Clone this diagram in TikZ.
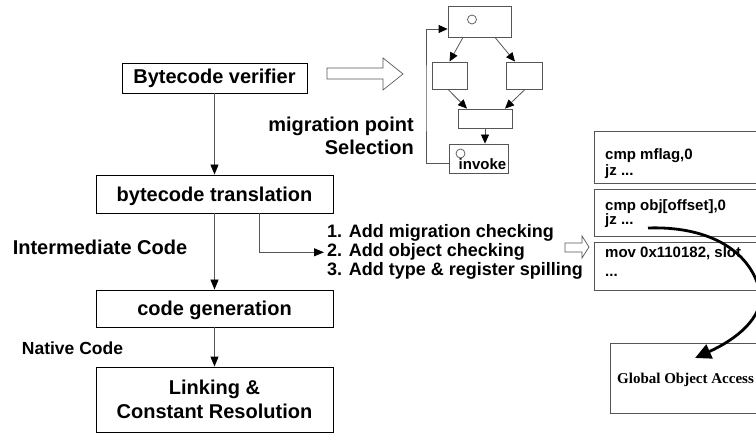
\documentclass[tikz,border=0pt]{standalone}
\usepackage{fontspec}
\setmainfont{Liberation Sans}
\newfontfamily\serifbold{Liberation Serif}
\usetikzlibrary{arrows.meta,calc}
\definecolor{ln}{HTML}{555555}
\begin{document}
\begin{tikzpicture}[x=1pt,y=-1pt,
  stage/.style={draw=black,line width=0.9pt,minimum width=237pt,inner sep=0pt,
    font=\fontsize{20}{23.3}\selectfont\bfseries,align=center},
  flow/.style={draw=ln,line width=0.9pt,-{Triangle[width=8pt,length=10pt,color=black]}},
  lbl/.style={inner sep=0pt,font=\fontsize{20}{23}\selectfont\bfseries},
  cfgbox/.style={draw=ln,line width=0.8pt,inner sep=0pt},
  cflow/.style={draw=ln,line width=0.8pt,-{Triangle[width=8pt,length=9pt,color=black]}},
  dot/.style={circle,draw=ln,line width=0.7pt,inner sep=0pt,minimum size=9pt},
  cbox/.style={draw=ln,line width=0.8pt,minimum width=168pt,anchor=north west,inner sep=0pt},
  ctext/.style={align=left,anchor=north west,inner sep=0pt},
  hollow/.style={draw=ln,line width=0.7pt,fill=white}]
\clip (0,0) rectangle (756,433);
\fill[white] (0,0) rectangle (756,433);

% left column
\node[stage,minimum width=185pt,minimum height=30pt] (bv) at (214.5,78) {Bytecode verifier};
\node[stage,minimum height=38pt,text depth=0pt] (bt) at (214.5,194) {bytecode translation};
\node[stage,minimum height=37pt,text depth=0pt] (cg) at (214.5,308.5) {code generation};
\node[stage,minimum height=65pt] (lk) at (214.5,399.5) {Linking \&\\Constant Resolution};
\draw[flow] (bv) -- (bt);
\draw[flow] (bt) -- (cg);
\draw[flow] (cg) -- (lk);

\node[lbl] (ic) at (100,247) {Intermediate Code};
\node[lbl,font=\fontsize{17.5}{20}\selectfont\bfseries] (nc) at (72.5,348) {Native Code};
\node[lbl,align=right,anchor=east] (mps) at (414,136.3) {migration point\\Selection};

% list
\node[lbl,font=\fontsize{18}{19}\selectfont\bfseries,align=left,anchor=west] (lst) at (327,252.3)
  {1. Add migration checking\\2. Add object checking\\3. Add type \& register spilling};
\coordinate (el) at (259,0);
\draw[flow] (bt.south -| el) |- ([xshift=-3pt]lst.west);

% hollow arrows
\draw[hollow] (327,68) -- (383,68) -- (383,58) -- (403,74) -- (383,90) -- (383,79) -- (327,79) -- cycle;
\draw[hollow] (565,243) -- (582,243) -- (582,236) -- (589,247) -- (582,258) -- (582,252) -- (565,252) -- cycle;

% CFG
\node[cfgbox,minimum width=63pt,minimum height=31pt] (n0) at (479.5,21.5) {};
\node[cfgbox,minimum width=35pt,minimum height=27pt] (n1) at (449.5,75.5) {};
\node[cfgbox,minimum width=36pt,minimum height=27pt] (n2) at (524,75.5) {};
\node[cfgbox,minimum width=54pt,minimum height=19pt] (n3) at (485,118.5) {};
\node[cfgbox,minimum width=59pt,minimum height=29pt] (n4) at (478.5,158.5) {};
\node[dot] (c0) at (472,19.5) {};
\node[dot] (c4) at (460.5,153.5) {};
\node[inner sep=0pt,font=\fontsize{15}{18}\selectfont\bfseries] (n4t) at (482.5,164) {invoke};
\draw[cflow] ([xshift=-16.5pt]n0.south) -- (n1.north);
\draw[cflow] ([xshift=15.5pt]n0.south) -- ([xshift=-9pt]n2.north);
\draw[cflow] ([xshift=-1.5pt]n1.south) -- ([xshift=-18pt]n3.north);
\draw[cflow] ([xshift=1pt]n2.south) -- ([xshift=20pt]n3.north);
\draw[cflow] (n3.south) -- (n3.south |- n4.north);
\coordinate (lp) at (426,100);
\draw[cflow] ([yshift=-4.5pt]n4.west) -| (lp) |- ([yshift=-7.5pt]n0.west);

% code boxes
\node[cbox,minimum height=52pt] (cb1) at (594,131) {};
\node[cbox,minimum height=47pt] (cb2) at (594,189) {};
\node[cbox,minimum height=48pt] (cb3) at (594,242) {};
\node[ctext,font=\fontsize{15}{16}\selectfont\bfseries] (t1) at (605,148) {cmp mflag,0\\jz ...};
\node[ctext,font=\fontsize{15}{14.5}\selectfont\bfseries] (t2) at (605,199) {cmp obj[offset],0\\jz ...};
\node[ctext,font=\fontsize{15}{19}\selectfont\bfseries] (t3) at (605,246.4) {mov 0x110182, slot\\...};

% global object access
\node[draw=ln,line width=0.8pt,anchor=north west,minimum width=152pt,minimum height=70pt,inner sep=0pt] (ga) at (610,343) {};
\node[inner sep=0pt,anchor=west,font=\serifbold\fontsize{15}{18}\selectfont\bfseries] (gat) at (617,379.5) {Global Object Access};

% curved thick arrow
\coordinate (cs) at (648,228);
\coordinate (cm) at (760,292);
\coordinate (ce) at (695,358);
\draw[line width=2.8pt,black,-{Triangle[width=15pt,length=16pt]}]
  (cs) .. controls (705,226) and (750,248) .. (cm)
       .. controls (764,318) and (735,340) .. (ce);
\end{tikzpicture}
\end{document}
